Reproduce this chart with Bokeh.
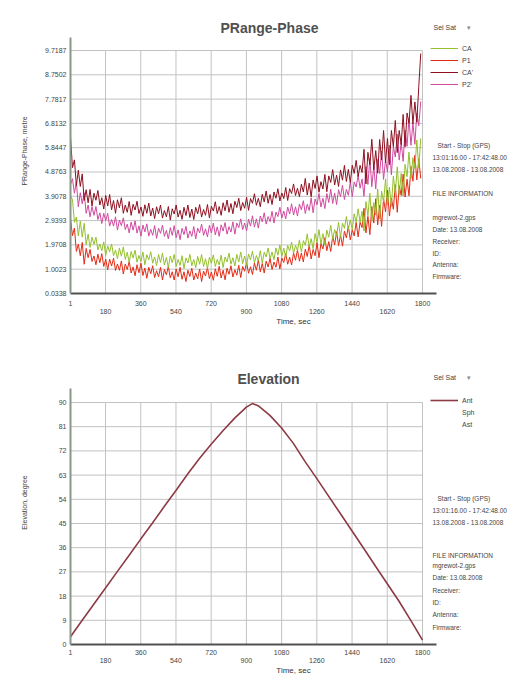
from bokeh.plotting import figure
from bokeh.models import FixedTicker, LinearAxis, Label, Legend, LegendItem, Range1d
from bokeh.layouts import column
from bokeh.embed import file_html
from bokeh.resources import INLINE

# ---------------- data ----------------
time_s = list(range(1, 1800, 10))  # 180 samples, seconds

ca = [3.90, 3.79, 2.87, 3.08, 2.33, 2.92, 2.28, 2.83, 1.98, 2.40,
      1.87, 2.28, 1.99, 2.28, 1.77, 2.01, 1.74, 2.09, 1.55, 1.93,
      1.69, 2.01, 1.54, 1.77, 1.42, 1.85, 1.52, 1.89, 1.39, 1.68,
      1.27, 1.71, 1.45, 1.76, 1.28, 1.55, 1.31, 1.69, 1.18, 1.58,
      1.37, 1.70, 1.24, 1.49, 1.15, 1.59, 1.27, 1.65, 1.17, 1.47,
      1.07, 1.52, 1.26, 1.59, 1.11, 1.39, 1.15, 1.54, 1.03, 1.45,
      1.25, 1.59, 1.14, 1.39, 1.06, 1.51, 1.20, 1.59, 1.11, 1.42,
      1.03, 1.48, 1.24, 1.57, 1.11, 1.39, 1.17, 1.56, 1.07, 1.49,
      1.29, 1.64, 1.20, 1.46, 1.13, 1.59, 1.29, 1.69, 1.22, 1.53,
      1.15, 1.61, 1.37, 1.72, 1.26, 1.55, 1.33, 1.74, 1.25, 1.68,
      1.49, 1.85, 1.42, 1.69, 1.38, 1.85, 1.56, 1.97, 1.51, 1.84,
      1.47, 1.95, 1.73, 2.08, 1.64, 1.95, 1.75, 2.17, 1.69, 2.14,
      1.96, 2.41, 1.88, 2.22, 1.82, 2.42, 2.06, 2.58, 2.00, 2.42,
      1.96, 2.56, 2.28, 2.75, 2.19, 2.58, 2.34, 2.87, 2.27, 2.84,
      2.63, 3.10, 2.59, 2.97, 2.59, 3.21, 2.87, 3.41, 2.87, 3.31,
      2.52, 3.70, 3.13, 4.03, 2.90, 3.66, 3.16, 4.20, 3.00, 4.11,
      3.68, 4.60, 3.56, 4.27, 3.51, 4.71, 4.02, 5.08, 3.97, 4.82,
      3.92, 5.18, 4.69, 5.67, 4.62, 5.45, 5.03, 6.15, 5.03, 6.22]

p1 = [3.01, 2.34, 2.64, 1.71, 2.00, 1.54, 2.07, 1.20, 1.83, 1.46,
      1.79, 1.31, 1.53, 1.18, 1.60, 1.26, 1.62, 1.11, 1.40, 0.98,
      1.40, 1.13, 1.44, 0.95, 1.21, 0.96, 1.33, 0.81, 1.21, 0.99,
      1.31, 0.85, 1.09, 0.74, 1.18, 0.86, 1.24, 0.75, 1.05, 0.64,
      1.08, 0.82, 1.14, 0.67, 0.94, 0.70, 1.08, 0.57, 0.99, 0.78,
      1.11, 0.66, 0.90, 0.57, 1.01, 0.70, 1.08, 0.60, 0.90, 0.51,
      0.96, 0.71, 1.04, 0.57, 0.85, 0.62, 1.01, 0.51, 0.93, 0.73,
      1.07, 0.63, 0.89, 0.56, 1.02, 0.72, 1.12, 0.65, 0.96, 0.58,
      1.04, 0.80, 1.14, 0.69, 0.98, 0.76, 1.16, 0.67, 1.11, 0.92,
      1.27, 0.84, 1.10, 0.79, 1.25, 0.96, 1.37, 0.90, 1.23, 0.85,
      1.32, 1.09, 1.44, 0.99, 1.29, 1.08, 1.49, 1.01, 1.45, 1.27,
      1.63, 1.20, 1.48, 1.17, 1.65, 1.36, 1.77, 1.32, 1.65, 1.29,
      1.80, 1.51, 1.97, 1.41, 1.79, 1.54, 2.06, 1.46, 2.03, 1.81,
      2.26, 1.74, 2.10, 1.71, 2.32, 1.97, 2.50, 1.94, 2.37, 1.92,
      2.52, 2.25, 2.72, 2.17, 2.57, 2.33, 2.87, 2.29, 2.87, 2.66,
      3.43, 2.45, 3.11, 2.38, 3.50, 2.84, 3.81, 2.77, 3.55, 2.71,
      3.81, 3.29, 4.15, 3.12, 3.84, 3.39, 4.37, 3.27, 4.33, 3.94,
      4.79, 3.88, 4.59, 3.93, 5.10, 4.51, 5.54, 4.56, 5.40, 4.62]

ca2 = [6.28, 5.05, 5.36, 4.33, 4.95, 4.30, 4.80, 3.74, 4.17, 3.65,
       4.18, 3.52, 4.03, 3.75, 4.14, 3.56, 3.85, 3.40, 3.94, 3.52,
       3.98, 3.37, 3.74, 3.23, 3.77, 3.45, 3.85, 3.23, 3.56, 3.27,
       3.70, 3.15, 3.59, 3.36, 3.71, 3.22, 3.48, 3.11, 3.57, 3.23,
       3.64, 3.12, 3.44, 3.02, 3.49, 3.21, 3.56, 3.04, 3.34, 3.09,
       3.50, 2.96, 3.41, 3.20, 3.56, 3.08, 3.35, 2.99, 3.47, 3.14,
       3.56, 3.06, 3.40, 2.98, 3.47, 3.21, 3.58, 3.08, 3.38, 3.15,
       3.58, 3.05, 3.51, 3.32, 3.69, 3.22, 3.50, 3.15, 3.65, 3.33,
       3.76, 3.27, 3.62, 3.21, 3.71, 3.46, 3.83, 3.34, 3.66, 3.43,
       3.87, 3.35, 3.82, 3.63, 4.01, 3.55, 3.83, 3.49, 3.99, 3.68,
       4.12, 3.63, 3.98, 3.58, 4.08, 3.83, 4.21, 3.72, 4.04, 3.82,
       4.26, 3.74, 4.21, 4.02, 4.40, 3.94, 4.23, 3.89, 4.39, 4.08,
       4.62, 3.96, 4.43, 3.89, 4.56, 4.22, 4.72, 4.07, 4.49, 4.20,
       4.78, 4.09, 4.72, 4.46, 4.97, 4.36, 4.75, 4.30, 4.96, 4.55,
       5.14, 4.50, 4.98, 4.46, 5.14, 4.82, 5.34, 4.70, 5.14, 4.86,
       5.78, 4.40, 5.66, 5.16, 6.18, 4.96, 5.73, 4.83, 6.17, 5.35,
       6.53, 5.25, 6.21, 5.17, 6.53, 5.89, 6.93, 5.65, 6.53, 5.97,
       7.17, 5.88, 7.23, 6.82, 7.93, 6.80, 7.67, 6.86, 8.29, 9.60]

p2 = [4.38, 4.61, 4.03, 4.48, 3.49, 4.05, 3.61, 4.05, 3.23, 3.56,
      3.09, 3.50, 3.15, 3.50, 2.98, 3.25, 2.82, 3.23, 2.94, 3.23,
      2.72, 2.98, 2.72, 3.09, 2.56, 2.96, 2.74, 3.05, 2.58, 2.80,
      2.45, 2.88, 2.56, 2.93, 2.44, 2.73, 2.32, 2.76, 2.49, 2.81,
      2.32, 2.59, 2.35, 2.74, 2.23, 2.64, 2.43, 2.76, 2.31, 2.55,
      2.21, 2.66, 2.35, 2.74, 2.26, 2.57, 2.18, 2.63, 2.38, 2.71,
      2.24, 2.53, 2.31, 2.70, 2.21, 2.64, 2.45, 2.80, 2.35, 2.61,
      2.29, 2.75, 2.45, 2.84, 2.37, 2.69, 2.31, 2.77, 2.52, 2.86,
      2.40, 2.70, 2.48, 2.89, 2.40, 2.84, 2.66, 3.01, 2.58, 2.84,
      2.53, 3.00, 2.72, 3.13, 2.68, 3.01, 2.64, 3.12, 2.89, 3.25,
      2.80, 3.10, 2.90, 3.31, 2.84, 3.28, 3.10, 3.47, 3.04, 3.32,
      3.01, 3.48, 3.20, 3.61, 3.16, 3.49, 3.12, 3.60, 3.37, 3.73,
      3.22, 3.59, 3.34, 3.85, 3.25, 3.80, 3.57, 4.02, 3.48, 3.83,
      3.42, 4.02, 3.66, 4.19, 3.62, 4.04, 3.58, 4.17, 3.89, 4.35,
      3.78, 4.18, 3.95, 4.48, 3.90, 4.48, 4.28, 4.75, 4.23, 4.60,
      3.91, 5.09, 4.38, 5.42, 4.29, 5.12, 4.20, 5.38, 4.81, 5.71,
      4.58, 5.36, 4.88, 5.94, 4.76, 5.89, 5.47, 6.39, 5.35, 6.06,
      5.30, 6.55, 5.90, 7.01, 5.94, 6.84, 5.98, 7.23, 6.72, 7.69]

elev_time = [1, 60, 120, 180, 240, 300, 360, 420, 480, 540, 600, 660, 720, 780,
             840, 900, 930, 960, 1020, 1080, 1140, 1200, 1260, 1320, 1380, 1440,
             1500, 1560, 1620, 1680, 1740, 1800]
elev_deg = [2.9, 8.9, 15.0, 21.0, 27.1, 33.1, 39.2, 45.2, 51.3, 57.3, 63.4, 69.2, 74.5, 79.5,
            84.2, 88.3, 89.6, 88.8, 85.2, 80.5, 74.8, 68.0, 61.7, 55.2, 48.7, 42.2,
            35.7, 29.1, 22.6, 16.1, 9.0, 1.6]

x_ticks = [1, 180, 360, 540, 720, 900, 1080, 1260, 1440, 1620, 1800]
x_tick_labels = ["1", "180", "360", "540", "720", "900", "1080", "1260", "1440", "1620", "1800"]

prange_ticks = [0.0338, 1.0023, 1.9708, 2.9393, 3.9078, 4.8763, 5.8447, 6.8132, 7.7817, 8.7502, 9.7187]
prange_tick_labels = ["0.0338", "1.0023", "1.9708", "2.9393", "3.9078", "4.8763",
                      "5.8447", "6.8132", "7.7817", "8.7502", "9.7187"]

elev_ticks = [0, 9, 18, 27, 36, 45, 54, 63, 72, 81, 90]
elev_tick_labels = ["0", "9", "18", "27", "36", "45", "54", "63", "72", "81", "90"]

prange_series = ["CA", "P1", "CA'", "P2'"]
elev_series = ["Ant", "Sph", "Ast"]

info_lines = ["Start - Stop (GPS)", "13:01:16.00 - 17:42:48.00", "13.08.2008 - 13.08.2008",
              "FILE INFORMATION", "mgrewot-2.gps", "Date: 13.08.2008", "Receiver:", "ID:",
              "Antenna:", "Firmware:"]

# ---------------- styling ----------------
FONT = "Liberation Sans"
GRID = "#c2c2c2"
TXT = "#444444"
COLORS = {"CA": "#93c02c", "P1": "#e42a14", "CA'": "#8e1020", "P2'": "#d04a9e"}
ELEV_COLORS = {"Ant": "#8c3a44", "Sph": "#b8dcb0", "Ast": "#98d0c4"}

W = 516
LEFT = 70            # canvas x of the y axis (frame left)
X_SPAN_PX = 352      # pixels between first and last x tick
AXIS_END_PX = 366    # x axis line length in pixels


class Geo:
    """pixel geometry of one chart (canvas pixels)"""
    def __init__(self, height, frame_top, frame_bottom, grid_top, ticks):
        self.h = height
        self.ft = frame_top
        self.fb = frame_bottom
        self.gt = grid_top
        self.ticks = ticks
        self.xpp = (x_ticks[-1] - x_ticks[0]) / X_SPAN_PX
        self.ypp = (ticks[-1] - ticks[0]) / (frame_bottom - grid_top)

    def dx(self, cx):
        return x_ticks[0] + (cx - LEFT) * self.xpp

    def dy(self, cy):
        return self.ticks[0] + (self.fb - cy) * self.ypp


def make_fig(g, tick_labels, ylabel, axis_top_px, upper_standoff, ylabel_standoff):
    ticks = g.ticks
    p = figure(width=W, height=g.h, output_backend="svg", toolbar_location=None,
               title=None, x_axis_location=None,
               x_range=Range1d(g.dx(LEFT), g.dx(W)),
               y_range=Range1d(g.dy(g.fb), g.dy(g.ft)),
               min_border_left=LEFT, min_border_right=0, min_border_top=g.ft,
               min_border_bottom=g.h - g.fb, outline_line_color=None,
               background_fill_color="white", border_fill_color="white")
    p.xgrid.visible = False
    p.ygrid.visible = False
    p.segment(x0=x_ticks, y0=[ticks[0]] * len(x_ticks), x1=x_ticks, y1=[ticks[-1]] * len(x_ticks),
              line_color=GRID, line_width=1)
    p.segment(x0=[x_ticks[0]] * len(ticks), y0=ticks, x1=[x_ticks[-1]] * len(ticks), y1=ticks,
              line_color=GRID, line_width=1)
    ya = p.yaxis[0]
    ya.ticker = FixedTicker(ticks=ticks)
    ya.major_label_overrides = dict(zip(ticks, tick_labels))
    ya.bounds = (ticks[0], g.dy(axis_top_px))
    ya.axis_line_color = "#8a968a"
    ya.axis_line_width = 2
    ya.major_tick_line_color = None
    ya.minor_tick_line_color = None
    ya.major_tick_out = 0
    ya.major_tick_in = 0
    ya.minor_tick_out = 0
    ya.major_label_text_font_size = "7px"
    ya.major_label_text_font = FONT
    ya.major_label_text_color = TXT
    ya.major_label_standoff = 4
    ya.axis_label = ylabel
    ya.axis_label_text_font = FONT
    ya.axis_label_text_font_size = "7px"
    ya.axis_label_text_font_style = "normal"
    ya.axis_label_text_color = TXT
    ya.axis_label_standoff = ylabel_standoff

    upper = {t: (lab if i % 2 == 0 else "") for i, (t, lab) in enumerate(zip(x_ticks, x_tick_labels))}
    ax1 = LinearAxis(ticker=FixedTicker(ticks=x_ticks), major_label_overrides=upper,
                     bounds=(x_ticks[0], g.dx(LEFT + AXIS_END_PX)),
                     axis_line_color="#505050", axis_line_width=2,
                     major_tick_line_color=None, minor_tick_line_color=None,
                     major_tick_out=0, major_tick_in=0, minor_tick_out=0,
                     major_label_standoff=upper_standoff, major_label_text_font_size="7px",
                     major_label_text_font=FONT, major_label_text_color=TXT)
    odd_t = x_ticks[1::2]
    odd_l = x_tick_labels[1::2]
    ax2 = LinearAxis(ticker=FixedTicker(ticks=odd_t), major_label_overrides=dict(zip(odd_t, odd_l)),
                     axis_line_color=None, major_tick_line_color=None, minor_tick_line_color=None,
                     major_tick_out=0, major_tick_in=0, minor_tick_out=0,
                     major_label_standoff=0, major_label_text_font_size="7px",
                     major_label_text_font=FONT, major_label_text_color=TXT,
                     axis_label="Time, sec", axis_label_standoff=0,
                     axis_label_text_font=FONT, axis_label_text_font_size="8px",
                     axis_label_text_font_style="normal", axis_label_text_color="#333333")
    p.add_layout(ax1, "below")
    p.add_layout(ax2, "below")
    return p


def add_text(p, g, cx, cy, text, size="6.5px", bold=False, align="left", color=TXT):
    p.add_layout(Label(x=g.dx(cx), y=g.dy(cy), text=text,
                       text_font=FONT, text_font_size=size, text_color=color,
                       text_font_style="bold" if bold else "normal",
                       text_align=align, text_baseline="middle"))


def add_legend(p, items, m):
    leg = Legend(items=items, location="top_right", margin=m, padding=0, spacing=0,
                 glyph_width=28, glyph_height=12, label_height=12, label_standoff=4,
                 label_text_font=FONT, label_text_font_size="7px", label_text_color=TXT,
                 border_line_color=None, background_fill_alpha=0)
    p.add_layout(leg)


def add_header(p, g, cy):
    add_text(p, g, 433, cy, "Sel Sat", size="7px")
    add_text(p, g, 466, cy, "\u25BE", size="7px", color="#888888")


# ---------------- top chart ----------------
g1 = Geo(height=344, frame_top=8, frame_bottom=293, grid_top=50, ticks=prange_ticks)
f1 = make_fig(g1, prange_tick_labels, "PRange-Phase, metre", axis_top_px=37,
              upper_standoff=7, ylabel_standoff=14)
rs = {}
for name, ys in [("P1", p1), ("CA", ca), ("P2'", p2), ("CA'", ca2)]:
    rs[name] = f1.line(time_s, ys, line_color=COLORS[name], line_width=1)
add_legend(f1, [LegendItem(label=n, renderers=[rs[n]]) for n in prange_series], 34)
add_text(f1, g1, 269, 27, "PRange-Phase", size="14px", bold=True, align="center", color="#505050")
add_header(f1, g1, 27)
ys1 = [145, 157, 169, 193, 217, 229, 241, 253, 264, 276]
for i, (t, yy) in enumerate(zip(info_lines, ys1)):
    add_text(f1, g1, 437 if i == 0 else 432, yy, t)

# ---------------- bottom chart ----------------
g2 = Geo(height=334, frame_top=16, frame_bottom=300, grid_top=58, ticks=elev_ticks)
f2 = make_fig(g2, elev_tick_labels, "Elevation, degree", axis_top_px=44,
              upper_standoff=5, ylabel_standoff=28)
er = {}
er["Sph"] = f2.line(x=[], y=[], line_color=ELEV_COLORS["Sph"], line_width=1)
er["Ast"] = f2.line(x=[], y=[], line_color=ELEV_COLORS["Ast"], line_width=1)
er["Ant"] = f2.line(elev_time, elev_deg, line_color=ELEV_COLORS["Ant"], line_width=1.6)
add_legend(f2, [LegendItem(label=n, renderers=[er[n]]) for n in elev_series], 34)
add_text(f2, g2, 268, 34, "Elevation", size="14px", bold=True, align="center", color="#505050")
add_header(f2, g2, 33)
ys2 = [154, 166, 178, 211, 221, 233, 246, 258, 270, 283]
for i, (t, yy) in enumerate(zip(info_lines, ys2)):
    add_text(f2, g2, 437 if i == 0 else 432, yy, t)

page = column(f1, f2, spacing=0)
open("out.html", "w").write(file_html(page, INLINE))
